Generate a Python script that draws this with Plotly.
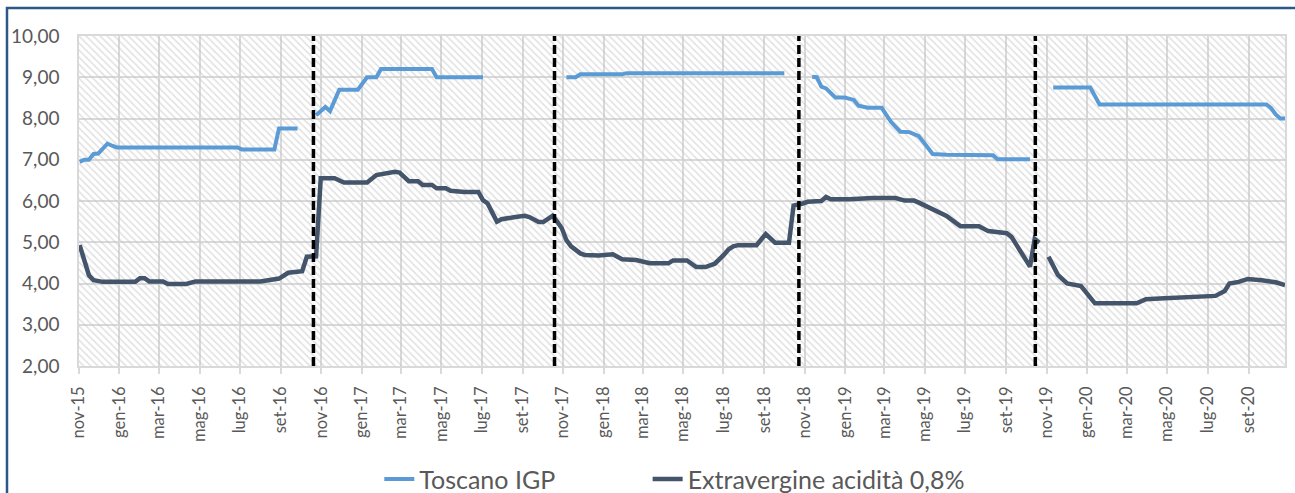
import pandas as pd
import plotly.graph_objects as go

# ---------------- data ----------------
TOSCANO_DATES = [
    "2015-11-02", "2015-11-09", "2015-11-16", "2015-11-23", "2015-11-30", "2015-12-14",
    "2015-12-21", "2015-12-28", "2016-06-27", "2016-07-04", "2016-08-22", "2016-08-29",
    "2016-09-26", "2016-10-10",
    "2016-10-24", "2016-11-07", "2016-11-14", "2016-11-28", "2016-12-26", "2017-01-09",
    "2017-01-23", "2017-01-30", "2017-04-17", "2017-04-24", "2017-07-03", "2017-08-01",
    "2017-11-06", "2017-11-20", "2017-11-27", "2018-01-29", "2018-02-05", "2018-10-01",
    "2018-10-20",
    "2018-11-12", "2018-11-19", "2018-11-26", "2018-12-03", "2018-12-17", "2018-12-31",
    "2019-01-14", "2019-01-21", "2019-02-04", "2019-02-25", "2019-03-11", "2019-03-25",
    "2019-04-08", "2019-04-22", "2019-04-29", "2019-05-13", "2019-06-03", "2019-08-12",
    "2019-08-19", "2019-10-07", "2019-10-20",
    "2019-11-11", "2020-01-06", "2020-01-20", "2020-09-28", "2020-10-05", "2020-10-12",
    "2020-10-19", "2020-10-26",
]
TOSCANO_VALUES = [
    6.95, 7.00, 7.00, 7.14, 7.15, 7.39,
    7.34, 7.30, 7.30, 7.25, 7.25, 7.76,
    7.76, None,
    8.08, 8.28, 8.18, 8.70, 8.70, 9.00,
    9.00, 9.20, 9.20, 9.00, 9.00, None,
    9.00, 9.00, 9.07, 9.07, 9.10, 9.10,
    None,
    9.01, 9.00, 8.77, 8.73, 8.51, 8.51,
    8.45, 8.31, 8.26, 8.26, 7.92, 7.68,
    7.67, 7.57, 7.43, 7.14, 7.12, 7.11,
    7.01, 7.01, None,
    8.75, 8.75, 8.34, 8.34, 8.25, 8.10,
    8.00, 8.00,
]

EXTRA_DATES = [
    "2015-11-02", "2015-11-09", "2015-11-16", "2015-11-23", "2015-12-07", "2016-01-25",
    "2016-02-01", "2016-02-08", "2016-02-15", "2016-03-07", "2016-03-14", "2016-04-11",
    "2016-04-25", "2016-08-01", "2016-08-15", "2016-08-29", "2016-09-12", "2016-10-03",
    "2016-10-10", "2016-10-24", "2016-10-31", "2016-11-21", "2016-12-05", "2017-01-09",
    "2017-01-23", "2017-02-20", "2017-02-27", "2017-03-13", "2017-03-27", "2017-04-03",
    "2017-04-17", "2017-04-24", "2017-05-08", "2017-05-15", "2017-06-05", "2017-06-26",
    "2017-07-03", "2017-07-10", "2017-07-24", "2017-07-31", "2017-08-21", "2017-09-04",
    "2017-09-11", "2017-09-25", "2017-10-02", "2017-10-16", "2017-10-23", "2017-10-30",
    "2017-11-06", "2017-11-13", "2017-11-27", "2017-12-04", "2017-12-25", "2018-01-08",
    "2018-01-15", "2018-01-29", "2018-02-19", "2018-03-12", "2018-04-09", "2018-04-16",
    "2018-05-07", "2018-05-21", "2018-06-04", "2018-06-18", "2018-06-25", "2018-07-02",
    "2018-07-09", "2018-07-16", "2018-07-23", "2018-08-20", "2018-09-03", "2018-09-17",
    "2018-10-08", "2018-10-15", "2018-10-29", "2018-11-05", "2018-11-26", "2018-12-03",
    "2018-12-10", "2019-01-07", "2019-02-11", "2019-03-18", "2019-04-01", "2019-04-15",
    "2019-04-22", "2019-05-06", "2019-05-20", "2019-06-03", "2019-06-17", "2019-06-24",
    "2019-07-22", "2019-08-05", "2019-09-02", "2019-09-09", "2019-09-23", "2019-10-07",
    "2019-10-14", "2019-10-21", "2019-10-28",
    "2019-11-04", "2019-11-18", "2019-12-02", "2019-12-23", "2020-01-13", "2020-02-03",
    "2020-02-10", "2020-03-16", "2020-03-30", "2020-04-27", "2020-05-25", "2020-06-15",
    "2020-07-13", "2020-07-27", "2020-08-03", "2020-08-17", "2020-08-31", "2020-09-21",
    "2020-10-12", "2020-10-26",
]
EXTRA_VALUES = [
    4.93, 4.57, 4.20, 4.08, 4.04, 4.04,
    4.13, 4.13, 4.05, 4.05, 3.99, 3.99,
    4.05, 4.05, 4.08, 4.12, 4.26, 4.30,
    4.65, 4.66, 6.55, 6.55, 6.45, 6.45,
    6.63, 6.71, 6.69, 6.48, 6.48, 6.39,
    6.39, 6.31, 6.31, 6.25, 6.22, 6.22,
    6.02, 5.94, 5.50, 5.56, 5.61, 5.64,
    5.61, 5.49, 5.49, 5.64, 5.50, 5.34,
    5.05, 4.90, 4.73, 4.69, 4.68, 4.71,
    4.71, 4.59, 4.57, 4.49, 4.49, 4.56,
    4.56, 4.40, 4.40, 4.48, 4.58, 4.70,
    4.83, 4.90, 4.93, 4.93, 5.20, 4.99,
    4.99, 5.89, 5.94, 5.98, 6.00, 6.10,
    6.04, 6.04, 6.07, 6.07, 6.01, 6.01,
    5.96, 5.86, 5.74, 5.64, 5.47, 5.39,
    5.39, 5.27, 5.22, 5.13, 4.77, 4.41,
    5.08, 4.99, None,
    4.65, 4.21, 4.00, 3.94, 3.52, 3.50,
    3.52, 3.52, 3.62, 3.64, 3.66, 3.68,
    3.70, 3.82, 4.00, 4.04, 4.11, 4.08,
    4.03, 3.96,
]

SERIES_NAMES = ["Toscano IGP", "Extravergine acidità 0,8%"]
SEASON_BREAKS = ["2016-10-20", "2017-10-19", "2018-10-23", "2019-10-15"]
MONTHS_IT = ["gen", "feb", "mar", "apr", "mag", "giu", "lug", "ago", "set", "ott", "nov", "dic"]
X_START, X_END = "2015-11-01", "2020-10-26"
Y_MIN, Y_MAX = 2, 10

tick_dates = pd.date_range("2015-11-01", "2020-09-01", freq="2MS")
tick_vals = [d.strftime("%Y-%m-%d") for d in tick_dates]
tick_text = [f"{MONTHS_IT[d.month - 1]}-{d.strftime('%y')}" for d in tick_dates]

TEXT = "#595959"
GRID = "#D9D9D9"
FONT = "Lato"

fig = go.Figure()

# hatched plot-area background
fig.add_trace(go.Scatter(
    x=[X_START, X_END, X_END, X_START, X_START],
    y=[Y_MIN, Y_MIN, Y_MAX, Y_MAX, Y_MIN],
    mode="none", fill="toself", fillcolor="rgba(0,0,0,0)",
    fillpattern=dict(shape="\\", size=5, solidity=0.32, fgcolor="#C4C4C4",
                     bgcolor="rgba(0,0,0,0)"),
    showlegend=False, hoverinfo="skip",
))

fig.add_trace(go.Scatter(
    x=TOSCANO_DATES, y=TOSCANO_VALUES, name=SERIES_NAMES[0], mode="lines",
    line=dict(color="#5B9BD5", width=4), connectgaps=False, legend="legend",
))
fig.add_trace(go.Scatter(
    x=EXTRA_DATES, y=EXTRA_VALUES, name=SERIES_NAMES[1], mode="lines",
    line=dict(color="#44546A", width=4.5), connectgaps=False, legend="legend2",
))

shapes = []
for d in SEASON_BREAKS:
    shapes.append(dict(type="line", xref="x", yref="paper", x0=d, x1=d, y0=0, y1=1,
                       line=dict(color="black", width=3.5, dash="9px,4px"), layer="above"))
# outer chart frame
shapes.append(dict(type="rect", xref="paper", yref="paper",
                   x0=-0.0597, x1=1.03, y0=-0.6, y1=1.0848,
                   line=dict(color="#2B5887", width=2.5), fillcolor="rgba(0,0,0,0)",
                   layer="below"))

legend_common = dict(orientation="h", xanchor="left", yanchor="middle",
                     font=dict(family=FONT, size=25, color=TEXT),
                     bgcolor="rgba(0,0,0,0)", borderwidth=0)

fig.update_layout(
    width=1295, height=493, autosize=False,
    margin=dict(l=79, r=10, t=36, b=127, autoexpand=False),
    paper_bgcolor="white", plot_bgcolor="white",
    separators=",.",
    font=dict(family=FONT, color=TEXT),
    shapes=shapes,
    legend=dict(x=0.249, y=-0.343, **legend_common),
    legend2=dict(x=0.4715, y=-0.343, **legend_common),
    xaxis=dict(
        type="date", range=[X_START, X_END], automargin=False,
        tickmode="array", tickvals=tick_vals, ticktext=tick_text,
        tickangle=-90, tickfont=dict(family=FONT, size=16.5, color=TEXT),
        ticks="outside", ticklen=6, tickcolor=GRID, tickwidth=1.5,
        ticklabelstandoff=6,
        showgrid=True, gridcolor=GRID, gridwidth=1.5,
        showline=True, linecolor=GRID, linewidth=1.5, mirror=True,
        zeroline=False,
    ),
    yaxis=dict(
        range=[Y_MIN, Y_MAX], dtick=1, tickformat=".2f", automargin=False,
        tickfont=dict(family=FONT, size=19, color=TEXT),
        ticks="", ticklabelstandoff=14,
        showgrid=True, gridcolor=GRID, gridwidth=1.5,
        showline=True, linecolor=GRID, linewidth=1.5, mirror=True,
        zeroline=False,
    ),
)

fig.write_html(
    "out.html",
    config={"displayModeBar": False},
    post_script="document.body.style.margin='0';document.body.style.overflow='hidden';",
)
